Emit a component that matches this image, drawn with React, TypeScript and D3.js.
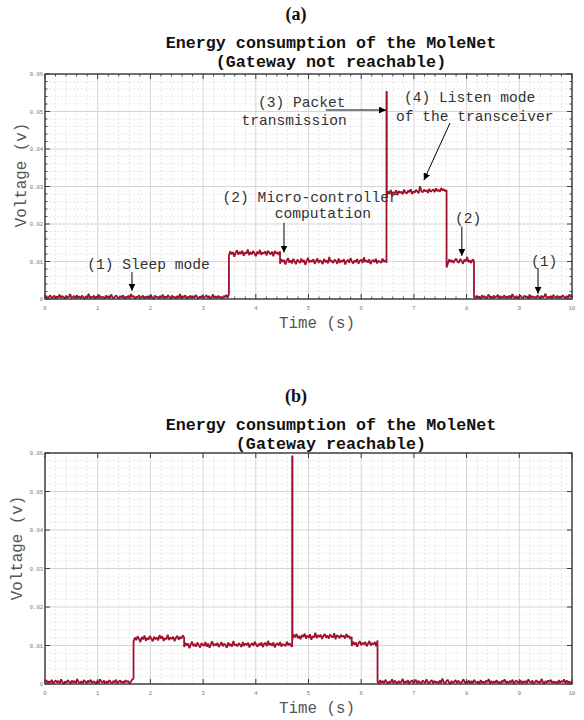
import React from "react";
import * as d3 from "d3";

// ---------- data (voltage samples in units of 0.1 mV) ----------
const xTicks = [0, 1, 2, 3, 4, 5, 6, 7, 8, 9, 10];
const yTicks = [0, 0.01, 0.02, 0.03, 0.04, 0.05, 0.06];
const yTickLabels = ["0", "0.01", "0.02", "0.03", "0.04", "0.05", "0.06"];

// Panel (a): Gateway not reachable
const breaksA = [0, 3.49, 4.46, 6.48, 6.486, 7.62, 8.14, 10];
const sleepA1 = [3,8,1,6,10,2,5,9,0,7,4,12,2,8,5,1,9,3,6,13,2,5,8,1,10,4,7,2,9,5,0,8,3,14,2,6,4,9,1,7,3,11,2,6,5,0,9,4,8,2,12,5,1,7,9,3,2,8,4,10,1,6,3,9,2,13,5,8,1,6,4,10,2,5,9,1,7,3,8,2,11,4,0,9,5,6,2,8,4,12,1,7,3,10,5,2,9,4,6,1,8,3,13,2,7,5,10,1,6,4,9,2,8,3,11,5,1,7,4,9,2,6,10,3,8,1,5,12,4,7,2,9,3,6,0,8,5,11,3,14];
const compA1 = [116,127,119,125,113,123,130,118,126,120,129,115,124,121,132,117,125,119,128,122,114,126,120,131,118,124,121,127,116,129,123,119,126,114,128,121,125,118,127];
const compA2 = [94,106,99,104,92,102,109,97,103,95,107,100,93,105,101,96,108,98,104,91,102,110,97,103,99,106,94,101,108,96,104,100,93,107,98,103,95,112,99,102,96,105,101,94,108,97,103,99,106,92,101,104,97,109,100,95,103,98,107,94,102,105,96,111,99,103,97,106,93,101,104,98,107,95,102,100,96,108,99,103,97];
const spikeA = [553, 553];
const listenA = [276,287,280,291,278,285,282,290,277,288,283,286,279,292,284,281,289,285,293,280,287,284,291,286,282,301,288,284,292,287,290,283,294,286,289,292,285,295,288,291,286,296,289,293,287,291];
const compA3 = [84,95,106,98,104,96,103,108,99,97,107,101,94,105,100,112,98,103,96,106,101];
const sleepA2 = [6,1,9,3,7,0,10,4,8,2,5,12,3,7,1,9,4,6,11,2,8,3,5,10,1,7,4,9,2,13,5,3,8,1,6,10,4,2,9,5,7,1,12,3,8,4,6,2,10,5,1,9,3,7,14,2,6,4,8,1,11,5,3,9,2,7,4,10,6,1,8,3,12,5,9];
const samplesA = [sleepA1, compA1, compA2, spikeA, listenA, compA3, sleepA2];

// Panel (b): Gateway reachable
const breaksB = [0, 1.68, 2.64, 4.69, 4.696, 5.82, 6.31, 10];
const sleepB1 = [5,10,2,7,3,11,1,6,9,4,8,2,12,5,0,7,3,10,6,1,9,4,8,2,13,5,3,7,1,10,6,2,9,4,11,3,7,5,0,8,2,12,6,4,9,1,7,3,10,5,2,8,4,11,1,6,9,3,7,2,10,5,8,1,6,12,14];
const compB1 = [110,121,114,124,117,109,122,116,126,112,120,115,125,118,111,123,116,121,113,127,118,124,112,119,116,128,114,121,117,123,111,120,125,115,122,118,126,121];
const compB2 = [96,107,100,105,93,103,110,98,104,97,108,101,95,106,102,99,109,97,105,94,103,111,99,104,100,107,96,102,109,98,105,101,94,108,99,104,97,112,100,103,98,106,102,96,109,99,105,101,107,95,103,106,99,110,102,97,105,100,108,96,104,107,98,112,101,105,99,108,95,103,106,100,109,97,104,102,98,110,101,106,100,97];
const spikeB = [592, 592];
const compB3 = [117,128,121,130,119,125,116,127,122,131,118,126,120,129,115,124,121,133,119,127,122,128,117,125,130,120,126,118,129,123,121,132,116,127,124,119,128,122,126,118,130,121,125,117,123];
const compB4 = [99,110,102,108,97,106,111,101,107,103,109,98,105,112,100,106,103,109,98,113];
const sleepB2 = [6,1,10,3,8,2,11,5,0,7,4,12,2,9,5,1,8,3,6,13,2,7,4,10,1,6,9,3,5,11,2,8,4,0,9,6,3,12,5,1,7,10,2,8,4,6,1,9,3,14,5,2,7,11,4,0,8,3,6,10,2,9,5,1,7,12,3,6,4,9,1,8,2,11,5,3,7,0,10,4,6,2,9,5,13,1,8,3,7,4,10,2,6,1,9,5,12,3,7,2,8,4,11,0,6,9,3,5,10,1,7,4,8,2,12,6,3,9,1,5,10,4,7,2,13,6,0,8,3,9,5,11,2,7,4,6,1,10,3,8,5,12,2,9,4,7,1,6];
const samplesB = [sleepB1, compB1, compB2, spikeB, compB3, compB4, sleepB2];

// annotations for panel (a): [text, t, v]
const annoTextA: [string, number, number][] = [
  ["(1) Sleep mode", 0.8, 0.008],
  ["(2) Micro-controller", 3.37, 0.02595],
  ["computation", 4.36, 0.0216],
  ["(3) Packet", 4.04, 0.0513],
  ["transmission", 3.73, 0.0464],
  ["(4) Listen mode", 6.81, 0.05245],
  ["of the transceiver", 6.66, 0.04755],
  ["(2)", 7.78, 0.0203],
  ["(1)", 9.22, 0.0088],
];
// arrows: [t0, v0, t1, v1]
const arrowsA: [number, number, number, number][] = [
  [1.65, 0.0072, 1.65, 0.0022],
  [4.535, 0.02035, 4.535, 0.0124],
  [5.33, 0.0504, 6.47, 0.0504],
  [7.685, 0.04693, 7.19, 0.0317],
  [7.91, 0.0193, 7.91, 0.0115],
  [9.355, 0.0083, 9.355, 0.0014],
];

const LINE = "#a0112e";
const MONO = "'Liberation Mono', 'DejaVu Sans Mono', monospace";

function buildPoints(breaks: number[], samples: number[][]) {
  const pts: [number, number][] = [];
  samples.forEach((seg, i) => {
    const t0 = breaks[i];
    const t1 = breaks[i + 1];
    const n = seg.length;
    seg.forEach((v, j) => {
      const t = n === 1 ? t0 : t0 + ((t1 - t0) * j) / (n - 1);
      pts.push([t, v * 1e-4]);
    });
  });
  return pts;
}

type PanelProps = {
  top: number;
  bottom: number;
  breaks: number[];
  samples: number[][];
  minor: boolean;
  letter: string;
  subtitle: string;
  titleY: number;
  ylabelX: number;
  ylabelY: number;
  children?: (x: d3.ScaleLinear<number, number>, y: d3.ScaleLinear<number, number>) => React.ReactNode;
};

function Panel(p: PanelProps) {
  const left = 45, right = 572;
  const x = d3.scaleLinear().domain([0, 10]).range([left, right]);
  const y = d3.scaleLinear().domain([0, 0.06]).range([p.bottom, p.top]);
  const pts = buildPoints(p.breaks, p.samples);
  const line = d3.line<[number, number]>().x((d) => x(d[0])).y((d) => y(d[1]));
  const minorX = d3.range(0, 10.001, 0.2).filter((t) => Math.abs(t - Math.round(t)) > 1e-6);
  const minorY = d3.range(0, 0.06001, 0.002).filter((v) => Math.abs(v * 100 - Math.round(v * 100)) > 1e-6);
  const axisCol = "#3a3a3a";
  const maj = 5, mi = 2.5;
  return (
    <g>
      <text x={296} y={p.titleY - 28} textAnchor="middle" fontFamily="'Liberation Serif', serif" fontWeight="bold" fontSize={18} fill="#111">
        {p.letter}
      </text>
      <text x={331} y={p.titleY} textAnchor="middle" fontFamily={MONO} fontWeight="bold" fontSize={16.7} fill="#111">
        Energy consumption of the MoleNet
      </text>
      <text x={331} y={p.titleY + 19} textAnchor="middle" fontFamily={MONO} fontWeight="bold" fontSize={16.7} fill="#111">
        {p.subtitle}
      </text>
      {/* minor grid */}
      {minorX.map((t) => (
        <line key={"mx" + t} x1={x(t)} x2={x(t)} y1={p.top} y2={p.bottom} stroke="#e3e3e3" strokeWidth={0.8} strokeDasharray="2,2" />
      ))}
      {minorY.map((v) => (
        <line key={"my" + v} x1={left} x2={right} y1={y(v)} y2={y(v)} stroke="#e3e3e3" strokeWidth={0.8} strokeDasharray="2,2" />
      ))}
      {/* major grid */}
      {xTicks.map((t) => (
        <line key={"gx" + t} x1={x(t)} x2={x(t)} y1={p.top} y2={p.bottom} stroke="#d6d6d6" strokeWidth={1} />
      ))}
      {yTicks.map((v) => (
        <line key={"gy" + v} x1={left} x2={right} y1={y(v)} y2={y(v)} stroke="#d6d6d6" strokeWidth={1} />
      ))}
      {/* data */}
      <path d={line(pts) || ""} fill="none" stroke={LINE} strokeWidth={1.8} strokeLinejoin="bevel" />
      {/* frame */}
      <rect x={left} y={p.top} width={right - left} height={p.bottom - p.top} fill="none" stroke={axisCol} strokeWidth={1.4} />
      {/* ticks */}
      {xTicks.map((t) => (
        <g key={"tx" + t}>
          <line x1={x(t)} x2={x(t)} y1={p.bottom} y2={p.bottom - maj} stroke={axisCol} strokeWidth={1} />
          <line x1={x(t)} x2={x(t)} y1={p.top} y2={p.top + maj} stroke={axisCol} strokeWidth={1} />
          <text x={x(t)} y={p.bottom + 11} textAnchor="middle" fontFamily={MONO} fontSize={5.5} fill="#777">
            {t}
          </text>
        </g>
      ))}
      {yTicks.map((v, i) => (
        <g key={"ty" + v}>
          <line x1={left} x2={left + maj} y1={y(v)} y2={y(v)} stroke={axisCol} strokeWidth={1} />
          <line x1={right} x2={right - maj} y1={y(v)} y2={y(v)} stroke={axisCol} strokeWidth={1} />
          <text x={left - 2} y={y(v) + 2} textAnchor="end" fontFamily={MONO} fontSize={5.5} fill="#777">
            {yTickLabels[i]}
          </text>
        </g>
      ))}
      {p.minor &&
        minorX.map((t) => (
          <g key={"mtx" + t}>
            <line x1={x(t)} x2={x(t)} y1={p.bottom} y2={p.bottom - mi} stroke={axisCol} strokeWidth={0.9} />
            <line x1={x(t)} x2={x(t)} y1={p.top} y2={p.top + mi} stroke={axisCol} strokeWidth={0.9} />
          </g>
        ))}
      {p.minor &&
        minorY.map((v) => (
          <g key={"mty" + v}>
            <line x1={left} x2={left + mi} y1={y(v)} y2={y(v)} stroke={axisCol} strokeWidth={0.9} />
            <line x1={right} x2={right - mi} y1={y(v)} y2={y(v)} stroke={axisCol} strokeWidth={0.9} />
          </g>
        ))}
      {/* axis labels */}
      <text x={317} y={p.bottom + 29} textAnchor="middle" fontFamily={MONO} fontSize={15.8} fill="#555">
        Time (s)
      </text>
      <text
        transform={`translate(${p.ylabelX},${p.ylabelY}) rotate(-90)`}
        textAnchor="middle"
        fontFamily={MONO}
        fontSize={15.8}
        fill="#555"
      >
        Voltage (v)
      </text>
      {p.children && p.children(x, y)}
    </g>
  );
}

export default function App() {
  return (
    <svg width={584} height={720} style={{ position: "absolute", left: 0, top: 0, background: "#fff" }}>
      <defs>
        <marker id="ah" viewBox="0 0 10 10" refX={10} refY={5} markerWidth={7} markerHeight={7} markerUnits="userSpaceOnUse" orient="auto">
          <path d="M0,0 L10,5 L0,10 z" fill="#000" />
        </marker>
      </defs>
      <Panel
        top={74}
        bottom={299}
        breaks={breaksA}
        samples={samplesA}
        minor={true}
        letter="(a)"
        subtitle="(Gateway not reachable)"
        titleY={48}
        ylabelX={26}
        ylabelY={175}
      >
        {(x, y) => (
          <g>
            {annoTextA.map(([s, t, v], i) => (
              <text key={"an" + i} x={x(t)} y={y(v)} fontFamily={MONO} fontSize={14.6} fill="#333" style={{ whiteSpace: "pre" }}>
                {s}
              </text>
            ))}
            {arrowsA.map(([t0, v0, t1, v1], i) => (
              <line key={"ar" + i} x1={x(t0)} y1={y(v0)} x2={x(t1)} y2={y(v1)} stroke="#000" strokeWidth={1} markerEnd="url(#ah)" />
            ))}
          </g>
        )}
      </Panel>
      <Panel
        top={453}
        bottom={684}
        breaks={breaksB}
        samples={samplesB}
        minor={false}
        letter="(b)"
        subtitle="(Gateway reachable)"
        titleY={430}
        ylabelX={22}
        ylabelY={548}
      />
    </svg>
  );
}
